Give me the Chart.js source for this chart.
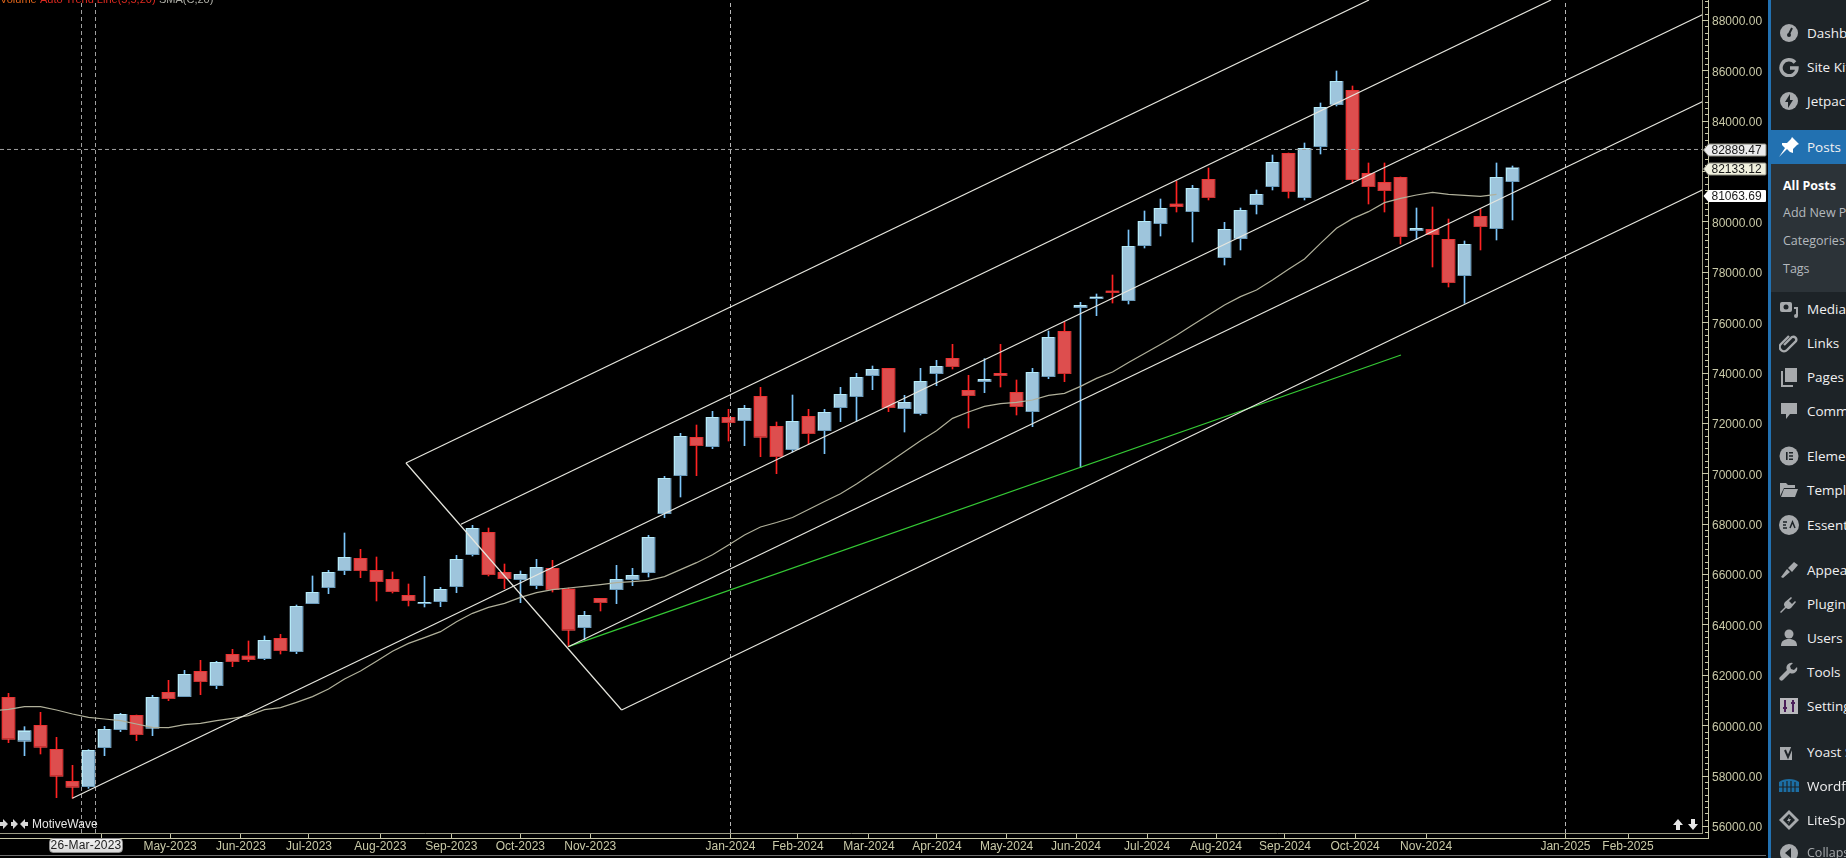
<!DOCTYPE html>
<html>
<head>
<meta charset="utf-8">
<title>MotiveWave chart</title>
<script src="https://cdn.jsdelivr.net/npm/chart.js@4"></script>
<style>
  html, body { margin: 0; padding: 0; background: #000; width: 1846px; height: 858px; overflow: hidden; }
  #chart { position: absolute; left: 0; top: 0; }
  .over { position: absolute; white-space: nowrap; font-family: "Liberation Sans", Arial, sans-serif; }
  #legend { left: 0; top: -8px; font-size: 11px; line-height: 14px; }
  #legend span { position: absolute; top: 0; }
  #brand { left: 32px; top: 817px; font-size: 12px; line-height: 14px; color: #e6e6e6; }
  #dateTag { left: 49px; top: 838px; width: 72px; height: 13px; line-height: 13px; text-align: center; font-size: 12px; letter-spacing: .2px; color: #222;
    background: linear-gradient(#f4f4f4, #d8d8d8); border: 1px solid #8a8a8a; border-radius: 4px; }
  #menu { position: absolute; left: 1768px; top: 0; width: 78px; height: 858px; background: #1d2327; border-left: 3px solid #2271b1; box-sizing: border-box; overflow: hidden;
    font-family: "Open Sans", "Noto Sans", sans-serif; }
  #menu .band { position: absolute; left: 0; width: 80px; }
  #menu .row { position: absolute; left: 36px; font-size: 13.5px; line-height: 18px; color: #f0f0f1; white-space: nowrap; }
  #menu .sub { position: absolute; left: 12px; font-size: 12.5px; line-height: 18px; color: #b4b9be; white-space: nowrap; }
  #menu svg { position: absolute; left: 8px; width: 20px; height: 20px; }
</style>
</head>
<body>
<canvas id="chart" width="1768" height="858"></canvas>
<div id="legend" class="over">
  <span style="left:0;color:#e0641a">Volume</span>
  <span style="left:40px;color:#e02a20">Auto Trend Line(5,5,20)</span>
  <span style="left:159px;color:#b0b0a8">SMA(C,20)</span>
</div>
<div id="brand" class="over">MotiveWave</div>
<svg class="over" style="left:0;top:818px" width="30" height="12" viewBox="0 0 30 12" fill="#d8d8d8">
  <path d="M-1 4h4V1l5 5-5 5V8h-4zM11 4h2V1l5 5-5 5V8h-2z"/><path d="M28 4h-3V1l-5 5 5 5V8h3z"/>
</svg>
<svg class="over" style="left:1672px;top:818px" width="28" height="13" viewBox="0 0 28 13" fill="#e8e8e8">
  <path d="M6 1l5 6H8v5H4V7H1zM21 12l-5-6h3V1h4v5h3z"/>
</svg>
<div id="dateTag" class="over">26-Mar-2023</div>
<div id="menu"></div>

<script>
const opens = [61108, 59362, 59997, 59044, 57773, 57562, 59110, 59825, 60394, 59878, 61307, 61135, 62141, 61572, 62816, 62749, 62644, 63451, 62922, 64827, 65462, 66137, 66627, 66151, 65793, 65158, 64827, 64907, 65502, 66773, 67659, 66071, 65780, 65542, 66230, 65410, 63874, 65039, 65383, 65780, 66058, 68400, 69909, 71431, 71060, 72225, 72092, 73058, 71867, 70941, 72264, 71695, 72608, 73045, 73879, 74170, 72569, 72370, 73958, 74567, 73297, 73641, 73972, 73217, 72450, 73839, 75639, 76579, 76936, 77241, 76857, 79041, 79914, 80695, 80391, 81674, 78564, 79319, 80668, 81383, 82706, 80946, 82971, 84639, 85208, 81912, 81555, 81754, 79636, 79689, 79292, 77850, 80205, 79716, 81582];
const highs = [61267, 59944, 60513, 59520, 58409, 59031, 59957, 60473, 60407, 61188, 61783, 62180, 62577, 62538, 63014, 63345, 63544, 63610, 64774, 65926, 66151, 67633, 66984, 66680, 66084, 65608, 65912, 65476, 66746, 67937, 67831, 66402, 66124, 66587, 66548, 65449, 64523, 65039, 66349, 66230, 67540, 69882, 71590, 71920, 72463, 72542, 72701, 73416, 72039, 73111, 72542, 72542, 73416, 73972, 74263, 74170, 73098, 74170, 74488, 75123, 73892, 74554, 75123, 73707, 74170, 75652, 76010, 76790, 77122, 77876, 79663, 80417, 80893, 81608, 81436, 82124, 79967, 80536, 81251, 82640, 82720, 83117, 84705, 85975, 85380, 82323, 82323, 81767, 80536, 80576, 80099, 79226, 80496, 82323, 82204];
const lows = [59309, 58792, 58859, 57125, 57099, 57496, 58792, 59745, 59388, 59587, 60976, 61135, 61214, 61453, 62326, 62525, 62604, 62829, 62842, 64827, 65224, 65979, 65859, 64933, 65251, 64735, 64695, 64708, 65264, 66720, 65926, 65423, 64867, 65423, 65290, 63120, 63385, 64536, 64827, 65542, 65886, 68241, 69062, 69909, 70981, 71285, 71100, 70663, 69988, 70848, 71166, 70782, 72053, 72066, 73323, 72450, 71642, 72317, 73482, 74144, 71801, 73204, 73429, 72317, 71854, 73760, 73641, 70226, 76260, 76764, 76725, 78948, 79424, 80377, 79186, 80854, 78273, 78869, 80298, 81251, 80933, 80854, 82680, 84586, 81515, 80695, 80377, 79107, 79292, 78194, 77400, 76751, 78869, 79266, 80060];
const closes = [59441, 59785, 59123, 57972, 57535, 59004, 59838, 60434, 59626, 61108, 61056, 62022, 61730, 62498, 62525, 62604, 63371, 62961, 64721, 65277, 66071, 66667, 66137, 65701, 65304, 64946, 64880, 65396, 66587, 67818, 65979, 65820, 65992, 66270, 65383, 63769, 64364, 64867, 65793, 65952, 67461, 69803, 71471, 71100, 72225, 72013, 72582, 71431, 70663, 72066, 71576, 72423, 73138, 73813, 74130, 72608, 72820, 73654, 74249, 74236, 73085, 73733, 73879, 72648, 74011, 75401, 73958, 76671, 77003, 77175, 79014, 80007, 80523, 80589, 81317, 80946, 79689, 80443, 81079, 82349, 81185, 82905, 84533, 85565, 81661, 81383, 81224, 79398, 79729, 79477, 77572, 79094, 79795, 81754, 82133.12];
const smaValues = [60579, 60632, 60738, 60738, 60606, 60447, 60314, 60248, 60182, 60050, 59917, 59904, 60023, 60076, 60182, 60275, 60381, 60619, 60698, 60910, 61135, 61439, 61836, 62154, 62538, 62935, 63252, 63477, 63716, 64113, 64443, 64682, 64840, 65079, 65264, 65383, 65449, 65515, 65582, 65661, 65701, 65753, 65899, 66177, 66455, 66772, 67156, 67553, 67871, 68050, 68248, 68566, 68883, 69194, 69578, 70001, 70425, 70862, 71298, 71695, 72185, 72436, 72661, 72767, 72820, 72913, 73098, 73177, 73455, 73773, 74024, 74402, 74759, 75117, 75481, 75891, 76288, 76685, 77016, 77281, 77678, 78101, 78511, 79133, 79729, 80113, 80391, 80748, 80920, 81052, 81158, 81079, 81039, 80999, 81079];

const channelTopX = [24.84, 85.03];
const channelTopY = [70412, 88794];
const channelEdgeX = [24.84, 38.32];
const channelEdgeY = [70412, 60606];
const channelSecondX = [28.28, 96.41];
const channelSecondY = [67978, 88794];
const channelMidX = [3.99, 105.86];
const channelMidY = [57100, 88210];
const channelFourthX = [34.99, 105.86];
const channelFourthY = [63119, 84756];
const channelLowX = [38.32, 105.86];
const channelLowY = [60606, 81251];
const greenX = [34.99, 87.03];
const greenY = [63119, 74700];

const crossBars = [4.5625, 5.4375, 45.125, 97.3125];
const crossPrice = 82860;

const priceLabels = [88000, 86000, 84000, 80000, 78000, 76000, 74000, 72000, 70000, 68000, 66000, 64000, 62000, 60000, 58000, 56000];
const priceTags = [82889.47, 82133.12, 81063.69];
const priceTagColors = ['#ececec', '#f1f1de', '#ffffff'];
const monthTicks = [5.825, 10.1, 14.53, 18.78, 23.24, 27.68, 31.99, 36.36, 45.125, 49.34, 53.78, 58.03, 62.38, 66.72, 71.16, 75.47, 79.78, 84.16, 88.6, 97.31, 101.22];
const monthLabels = ['', 'May-2023', 'Jun-2023', 'Jul-2023', 'Aug-2023', 'Sep-2023', 'Oct-2023', 'Nov-2023', 'Jan-2024', 'Feb-2024', 'Mar-2024', 'Apr-2024', 'May-2024', 'Jun-2024', 'Jul-2024', 'Aug-2024', 'Sep-2024', 'Oct-2024', 'Nov-2024', 'Jan-2025', 'Feb-2025'];

const axisColor = '#c9c9a8';
const blueUp = { fill: '#9ec5dc', light: '#b6ebf7', dark: '#6a9aba', wick: '#7cc6fa' };
const redDown = { fill: '#dd4e4e', light: '#ee3232', dark: '#c93030', wick: '#ff2222' };

function styleOf(i) {
  return closes[i] >= opens[i] ? blueUp : redDown;
}

function pairs(xs, ys) {
  return xs.map((x, i) => ({ x: x, y: ys[i] }));
}

function lineSet(xs, ys, color, width, dash) {
  return {
    type: 'line',
    data: pairs(xs, ys),
    borderColor: color,
    borderWidth: width,
    borderDash: dash || [],
    pointRadius: 0,
    tension: 0,
    order: 1
  };
}

const bevelPlugin = {
  id: 'bevel',
  afterDatasetDraw(chart, args) {
    if (!chart.data.datasets[args.index].bevel) return;
    const ctx = chart.ctx;
    ctx.save();
    ctx.lineWidth = 1;
    args.meta.data.forEach((bar, i) => {
      const s = styleOf(i);
      const left = bar.x - 6.5;
      const right = bar.x + 6.5;
      const top = Math.round(Math.min(bar.y, bar.base));
      const bottom = Math.max(Math.round(Math.max(bar.y, bar.base)), top + 2);
      ctx.fillStyle = s.light;
      ctx.fillRect(left, top, 13, 1);
      ctx.fillRect(left, top, 1, bottom - top);
      ctx.fillStyle = s.dark;
      ctx.fillRect(left, bottom - 1, 13, 1);
      ctx.fillRect(right - 1, top, 1, bottom - top);
    });
    ctx.restore();
  }
};

const framePlugin = {
  id: 'frame',
  afterDraw(chart) {
    const ctx = chart.ctx;
    const y = chart.scales.y;
    const a = chart.chartArea;
    ctx.save();
    ctx.fillStyle = axisColor;
    for (let v = 55750; v <= 88750; v += 250) {
      const py = Math.round(y.getPixelForValue(v));
      if (v % 2000 === 0) ctx.fillRect(a.right, py, 6, 1);
      else ctx.fillRect(a.right + 3, py, 3, 1);
    }
    ctx.fillRect(a.right + 6, 0, 1, a.bottom + 6);
    ctx.fillRect(0, a.bottom + 5, a.right + 6, 1);
    ctx.fillStyle = '#6e6e6e';
    ctx.fillRect(0, 855, 1766, 1);

    ctx.font = '12px "Liberation Sans", Arial, sans-serif';
    ctx.textBaseline = 'middle';
    priceTags.forEach((v, i) => {
      const py = Math.round(y.getPixelForValue(v)) + 1;
      ctx.beginPath();
      ctx.moveTo(a.right + 1.5, py);
      ctx.lineTo(a.right + 6.5, py - 6);
      ctx.lineTo(1765, py - 6);
      ctx.quadraticCurveTo(1766, py - 6, 1766, py - 5);
      ctx.lineTo(1766, py + 5);
      ctx.quadraticCurveTo(1766, py + 6, 1765, py + 6);
      ctx.lineTo(a.right + 6.5, py + 6);
      ctx.closePath();
      ctx.fillStyle = priceTagColors[i];
      ctx.fill();
      if (i < 2) {
        ctx.strokeStyle = '#8c8c80';
        ctx.lineWidth = 1;
        ctx.stroke();
      }
      ctx.fillStyle = '#1a1a1a';
      ctx.fillText(v.toFixed(2), 1711.5, py + 0.5);
    });
    ctx.restore();
  }
};

const indexes = opens.map((v, i) => i);

new Chart(document.getElementById('chart'), {
  type: 'bar',
  data: {
    datasets: [
      lineSet(channelTopX, channelTopY, '#e6e6de', 1.2),
      lineSet(channelEdgeX, channelEdgeY, '#e6e6de', 1.2),
      lineSet(channelSecondX, channelSecondY, '#e6e6de', 1.2),
      lineSet(channelMidX, channelMidY, '#e6e6de', 1.2),
      lineSet(channelFourthX, channelFourthY, '#e6e6de', 1.2),
      lineSet(channelLowX, channelLowY, '#e6e6de', 1.2),
      lineSet(greenX, greenY, '#35c935', 1.2),
      lineSet(smaValues.map((v, i) => i - 1), smaValues, '#b0b09a', 1.2),
      lineSet([crossBars[0], crossBars[0]], [55722, 88794], '#a0a0a0', 1, [4, 3]),
      lineSet([crossBars[1], crossBars[1]], [55722, 88794], '#a0a0a0', 1, [4, 3]),
      lineSet([crossBars[2], crossBars[2]], [55722, 88794], '#b8b8b8', 1, [4, 3]),
      lineSet([crossBars[3], crossBars[3]], [55722, 88794], '#b8b8b8', 1, [4, 3]),
      lineSet([-0.53, 105.84], [crossPrice, crossPrice], '#a0a0a0', 1, [4, 3]),
      {
        type: 'bar',
        bevel: true,
        grouped: false,
        barThickness: 13,
        order: 4,
        data: indexes.map(i => ({ x: i, y: [opens[i], closes[i]] })),
        backgroundColor: indexes.map(i => styleOf(i).fill),
        borderWidth: 0
      },
      {
        type: 'bar',
        grouped: false,
        barThickness: 1,
        order: 5,
        data: indexes.map(i => ({ x: i, y: [lows[i], highs[i]] })),
        backgroundColor: indexes.map(i => styleOf(i).wick),
        borderWidth: 0
      }
    ]
  },
  options: {
    responsive: false,
    animation: false,
    devicePixelRatio: 1,
    layout: { padding: 0 },
    plugins: { legend: { display: false }, tooltip: { enabled: false } },
    font: { family: '"Liberation Sans", Arial, sans-serif' },
    scales: {
      x: {
        type: 'linear',
        offset: false,
        min: -0.53125,
        max: 105.84375,
        afterBuildTicks(s) { s.ticks = monthTicks.map(v => ({ value: v })); },
        afterFit(s) { s.height = 25; s.paddingLeft = 0; s.paddingRight = 0; },
        grid: { offset: false, drawOnChartArea: false, drawTicks: true, tickLength: 5, tickColor: axisColor },
        border: { display: true, color: '#9a9a84' },
        ticks: {
          autoSkip: false,
          maxRotation: 0,
          padding: 1,
          color: axisColor,
          font: { family: '"Liberation Sans", Arial, sans-serif', size: 12 },
          callback(v) { return monthLabels[monthTicks.indexOf(v)]; }
        }
      },
      y: {
        type: 'linear',
        position: 'right',
        min: 55722,
        max: 88794,
        afterBuildTicks(s) { s.ticks = priceLabels.map(v => ({ value: v })); },
        afterFit(s) { s.width = 66; s.paddingTop = 0; s.paddingBottom = 0; },
        grid: { drawOnChartArea: false, drawTicks: false },
        border: { display: true, color: '#9a9a84' },
        ticks: {
          autoSkip: false,
          padding: 10,
          labelOffset: 2,
          color: axisColor,
          font: { family: '"Liberation Sans", Arial, sans-serif', size: 12 },
          callback(v) { return v.toFixed(2); }
        }
      }
    }
  },
  plugins: [bevelPlugin, framePlugin]
});

const icons = {
  gauge: '<circle cx="10" cy="10" r="9" fill="#a7aaad"/><path d="M10 11l3-6" stroke="#1d2327" stroke-width="2"/><circle cx="10" cy="12" r="2" fill="#1d2327"/>',
  site: '<path d="M16 5.5A8 8 0 1 0 18 11h-7" fill="none" stroke="#a7aaad" stroke-width="3.4"/>',
  bolt: '<circle cx="10" cy="10" r="9" fill="#a7aaad"/><path d="M11 3L6 11h3v6l5-8h-3z" fill="#1d2327"/>',
  pin: '<path d="M13 0l7 7-2 1-4 4 0 4-3-1-3-3-8 8 6-9-3-3 0-2 5 0 4-4z" fill="#fff"/>',
  media: '<rect x="1" y="3" width="12" height="10" rx="2" fill="#a7aaad"/><circle cx="7" cy="8" r="2.5" fill="#1d2327"/><path d="M15 8h4v9a2 2 0 1 1-2-2v-5h-2z" fill="#a7aaad"/>',
  link: '<path d="M6 14l8-8a3 3 0 0 1 4 4l-9 9a4 4 0 0 1-6-6l8-8" fill="none" stroke="#a7aaad" stroke-width="2.4" transform="translate(-1 -2)"/>',
  pages: '<rect x="6" y="1" width="12" height="14" fill="#a7aaad"/><path d="M3 4v15h11" fill="none" stroke="#a7aaad" stroke-width="2"/>',
  comment: '<path d="M2 2h16v11h-7l-4 5v-5H2z" fill="#a7aaad"/>',
  elementor: '<circle cx="10" cy="10" r="9.5" fill="#a7aaad"/><path d="M7 6h1.6v8H7zM10 6h4v1.6h-4zM10 9.2h4v1.6h-4zM10 12.4h4V14h-4z" fill="#1d2327"/>',
  folder: '<path d="M1 3h6l2 2h7v3H5l-4 8z" fill="#a7aaad"/><path d="M5 9h14l-3 8H2z" fill="#a7aaad"/>',
  ea: '<circle cx="10" cy="10" r="10" fill="#a7aaad"/><path d="M4 7h4M4 10h3M4 13h4M11 13l2.5-6 2.5 6" fill="none" stroke="#1d2327" stroke-width="1.5"/>',
  brush: '<path d="M2 17l6-8 3 3-7 6zM9 8l6-6 4 3-6 7z" fill="#a7aaad"/>',
  plug: '<path d="M6 8l6-5 1 1-3 3 3 3 3-3 1 1-5 6a4 4 0 0 1-5 0l-5 5-1-1 5-5a4 4 0 0 1 0-5z" fill="#a7aaad"/>',
  user: '<circle cx="10" cy="6" r="4.5" fill="#a7aaad"/><path d="M2 18c0-5 3-7 8-7s8 2 8 7z" fill="#a7aaad"/>',
  tool: '<path d="M18 5l-3 3-3-1-1-3 3-3a5 5 0 0 0-6 7l-7 7a2 2 0 0 0 3 3l7-7a5 5 0 0 0 7-6z" fill="#a7aaad"/>',
  sliders: '<rect x="1" y="2" width="18" height="16" fill="#b9b9bd"/><path d="M6 4v12M14 4v12M4 12h4M12 7h4" stroke="#4b1f5a" stroke-width="2"/>',
  yoast: '<path d="M1 5h12v13H1z" fill="#a7aaad"/><path d="M6 8l3 7 6-14" fill="none" stroke="#1d2327" stroke-width="2"/>',
  wordfence: '<path d="M0 6c5-4 15-4 20 0v10H0z" fill="#1c6ea4"/><path d="M4 6v10M8 5v11M12 5v11M16 6v10M0 11h20" stroke="#1d2327" stroke-width="1.2"/>',
  lite: '<path d="M10 0l10 10-10 10L0 10z" fill="#a7aaad"/><path d="M10 4l6 6-6 6-6-6z" fill="#1d2327"/><path d="M11 6l-3 5h2l-1 3 3-5h-2z" fill="#a7aaad"/>',
  collapse: '<circle cx="10" cy="10" r="9" fill="#a7aaad"/><path d="M12 5l-6 5 6 5z" fill="#1d2327"/>'
};

const sideRows = [
  ['Dashboard', 33, 'gauge'], ['Site Kit', 67, 'site'], ['Jetpack', 101, 'bolt'], ['Posts', 147, 'pin'],
  ['Media', 309, 'media'], ['Links', 343, 'link'], ['Pages', 377, 'pages'], ['Comments', 411, 'comment'],
  ['Elementor', 456, 'elementor'], ['Templates', 490, 'folder'], ['Essential', 525, 'ea'],
  ['Appearance', 570, 'brush'], ['Plugins', 604, 'plug'], ['Users', 638, 'user'], ['Tools', 672, 'tool'], ['Settings', 706, 'sliders'],
  ['Yoast SEO', 752, 'yoast'], ['Wordfence', 786, 'wordfence'], ['LiteSpeed', 820, 'lite'], ['Collapse', 853, 'collapse']
];
const sideSub = [['All Posts', 186], ['Add New Post', 213], ['Categories', 241], ['Tags', 269]];

let html = '<div class="band" style="top:130px;height:34px;background:#2271b1"></div>' +
  '<div class="band" style="top:164px;height:128px;background:#2c3338"></div>';
sideRows.forEach(r => {
  const dim = r[0] === 'Collapse' ? 'color:#a7aaad;font-size:12.5px;' : '';
  html += '<svg viewBox="0 0 20 20" style="top:' + (r[1] - 10) + 'px">' + icons[r[2]] + '</svg>';
  html += '<div class="row" style="top:' + (r[1] - 9) + 'px;' + dim + '">' + r[0] + '</div>';
});
sideSub.forEach((r, i) => {
  const bold = i === 0 ? 'color:#fff;font-weight:700;' : '';
  html += '<div class="sub" style="top:' + (r[1] - 9) + 'px;' + bold + '">' + r[0] + '</div>';
});
document.getElementById('menu').innerHTML = html;
</script>
</body>
</html>
